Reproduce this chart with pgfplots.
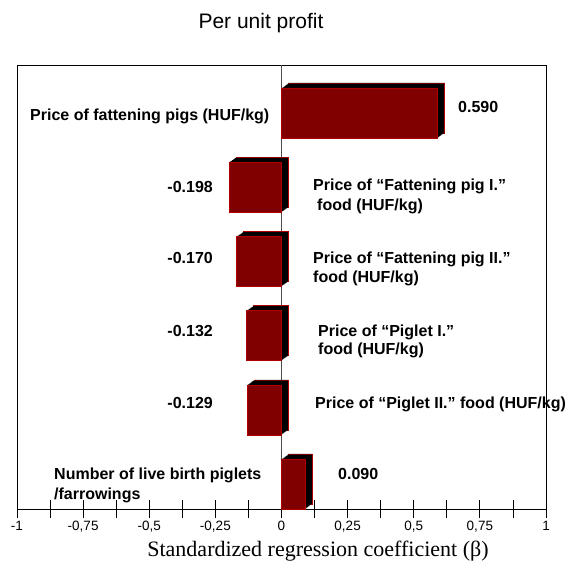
\documentclass[border=0pt]{standalone}
\usepackage{fontspec}
\setmainfont{Liberation Serif}
\newfontfamily\arial{Liberation Sans}
\usepackage{pgfplots}
\pgfplotsset{compat=1.18}
\usepackage{pgfplotstable}
\definecolor{barred}{HTML}{800000}
\definecolor{edgered}{HTML}{B00000}
\pgfplotstableread{
pos val
5 0.590
4 -0.198
3 -0.170
2 -0.132
1 -0.129
0 0.090
}\data
\newcommand\lbl{\arial\bfseries\fontsize{16bp}{20bp}\selectfont}
\pgfplotsset{depth/.style={xbar, bar width=50bp, fill=black, draw=none, forget plot}}
\begin{document}
\begin{tikzpicture}
\path[use as bounding box] (-17bp,-54bp) rectangle (550bp,509bp);
\begin{axis}[
  scale only axis, width=529bp, height=444bp,
  xmin=-1, xmax=1, ymin=-0.337, ymax=5.647,
  xtick={-1,-0.75,-0.5,-0.25,0,0.25,0.5,0.75,1},
  xticklabels={{-1},{-0,75},{-0,5},{-0,25},{0},{0,25},{0,5},{0,75},{1}},
  minor xtick={-0.875,-0.625,-0.375,-0.125,0.125,0.375,0.625,0.875},
  xtick align=center, major tick length=18bp, minor tick length=18bp,
  xtick pos=bottom, ytick=\empty,
  tick style={black, line width=0.8bp},
  xticklabel style={font=\arial\fontsize{13.5bp}{16bp}\selectfont},
  axis line style={black, line width=0.9bp},
  clip=false,
]
\draw[gray!60!black, line width=0.8bp] (axis cs:0,-0.337) -- (axis cs:0,5.647);
% extruded depth of the bars (3-D look)
\addplot[depth, draw=edgered, line width=0.5bp, xshift=7bp, yshift=5bp] table[x=val, y=pos] {\data};
\addplot[depth, xshift=6bp, yshift=4.29bp] table[x=val, y=pos] {\data};
\addplot[depth, xshift=5bp, yshift=3.57bp] table[x=val, y=pos] {\data};
\addplot[depth, xshift=4bp, yshift=2.86bp] table[x=val, y=pos] {\data};
\addplot[depth, xshift=3bp, yshift=2.14bp] table[x=val, y=pos] {\data};
\addplot[depth, xshift=2bp, yshift=1.43bp] table[x=val, y=pos] {\data};
\addplot[depth, xshift=1bp, yshift=0.71bp] table[x=val, y=pos] {\data};
% front faces
\addplot[xbar, bar width=50bp, fill=barred, draw=edgered, line width=0.5bp]
  table[x=val, y=pos] {\data};
\end{axis}
% titles and labels (origin = lower-left corner of the plot frame)
\node[anchor=base, font=\arial\fontsize{21bp}{25bp}\selectfont] at (244bp,480bp) {Per unit profit};
\node[anchor=base, font=\fontsize{22bp}{26bp}\selectfont] at (301bp,-47bp) {Standardized regression coefficient (β)};
\begin{scope}[every node/.style={font=\lbl, inner sep=0pt}]
\node[anchor=base west] at (13bp,388.3bp) {Price of fattening pigs (HUF/kg)};
\node[anchor=base west] at (441bp,396bp) {0.590};
\node[anchor=base east] at (196bp,316.3bp) {-0.198};
\node[anchor=base west] at (296bp,318bp) {Price of “Fattening pig I.”};
\node[anchor=base west] at (300bp,298bp) {food (HUF/kg)};
\node[anchor=base east] at (196bp,245.3bp) {-0.170};
\node[anchor=base west] at (296bp,245bp) {Price of “Fattening pig II.”};
\node[anchor=base west] at (296bp,226bp) {food (HUF/kg)};
\node[anchor=base east] at (196bp,172bp) {-0.132};
\node[anchor=base west] at (301bp,172bp) {Price of “Piglet I.”};
\node[anchor=base west] at (301bp,154bp) {food (HUF/kg)};
\node[anchor=base east] at (196bp,100bp) {-0.129};
\node[anchor=base west] at (298bp,100bp) {Price of “Piglet II.” food (HUF/kg)};
\node[anchor=base west] at (37bp,30bp) {Number of live birth piglets};
\node[anchor=base west] at (37bp,10bp) {/farrowings};
\node[anchor=base west] at (321bp,30bp) {0.090};
\end{scope}
\end{tikzpicture}
\end{document}
